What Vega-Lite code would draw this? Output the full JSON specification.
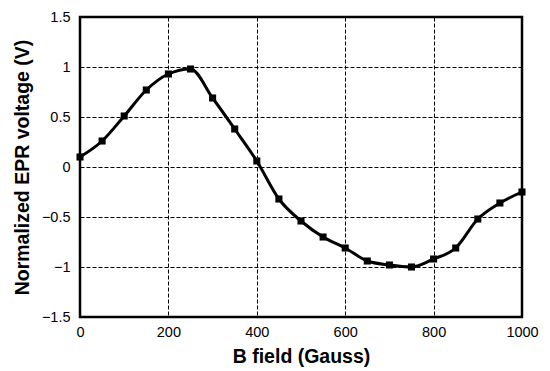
{
  "$schema": "https://vega.github.io/schema/vega-lite/v6.json",
  "autosize": {"type": "none"},
  "width": 442,
  "height": 300,
  "padding": {"left": 80, "top": 17, "right": 28, "bottom": 54},
  "background": "white",
  "config": {
    "view": {"stroke": "black", "strokeWidth": 2.5},
    "font": "Liberation Sans"
  },
  "data": {
    "values": [
      {"B": 0, "V": 0.10},
      {"B": 50, "V": 0.26},
      {"B": 100, "V": 0.51},
      {"B": 150, "V": 0.77},
      {"B": 200, "V": 0.93},
      {"B": 250, "V": 0.98},
      {"B": 300, "V": 0.69},
      {"B": 350, "V": 0.38},
      {"B": 400, "V": 0.06},
      {"B": 450, "V": -0.32},
      {"B": 500, "V": -0.54},
      {"B": 550, "V": -0.70},
      {"B": 600, "V": -0.81},
      {"B": 650, "V": -0.94},
      {"B": 700, "V": -0.98},
      {"B": 750, "V": -1.0},
      {"B": 800, "V": -0.92},
      {"B": 850, "V": -0.81},
      {"B": 900, "V": -0.52},
      {"B": 950, "V": -0.36},
      {"B": 1000, "V": -0.25}
    ]
  },
  "encoding": {
    "x": {
      "field": "B", "type": "quantitative",
      "scale": {"domain": [0, 1000], "nice": false},
      "axis": {
        "title": "B field (Gauss)", "values": [0, 200, 400, 600, 800, 1000], "format": "d",
        "grid": true, "gridColor": "black", "gridDash": [4, 2], "gridWidth": 1, "gridOpacity": 1,
        "domain": false, "ticks": false, "labelFlush": false, "labelOverlap": false,
        "labelFontSize": 14.5, "labelColor": "black", "labelPadding": 8,
        "titleFontSize": 19.5, "titleFontWeight": "bold", "titleColor": "black", "titlePadding": 9
      }
    },
    "y": {
      "field": "V", "type": "quantitative",
      "scale": {"domain": [-1.5, 1.5], "nice": false},
      "axis": {
        "title": "Normalized EPR voltage (V)", "values": [-1.5, -1, -0.5, 0, 0.5, 1, 1.5], "format": "~g",
        "grid": true, "gridColor": "black", "gridDash": [4, 2], "gridWidth": 1, "gridOpacity": 1,
        "domain": false, "ticks": false, "labelFlush": false, "labelOverlap": false,
        "labelFontSize": 14.5, "labelColor": "black", "labelPadding": 10,
        "titleFontSize": 19.5, "titleFontWeight": "bold", "titleColor": "black", "titlePadding": 9
      }
    }
  },
  "layer": [
    {"mark": {"type": "line", "color": "black", "strokeWidth": 3, "interpolate": "monotone"}},
    {"mark": {"type": "point", "shape": "square", "filled": true, "color": "black", "size": 50, "opacity": 1}}
  ]
}
